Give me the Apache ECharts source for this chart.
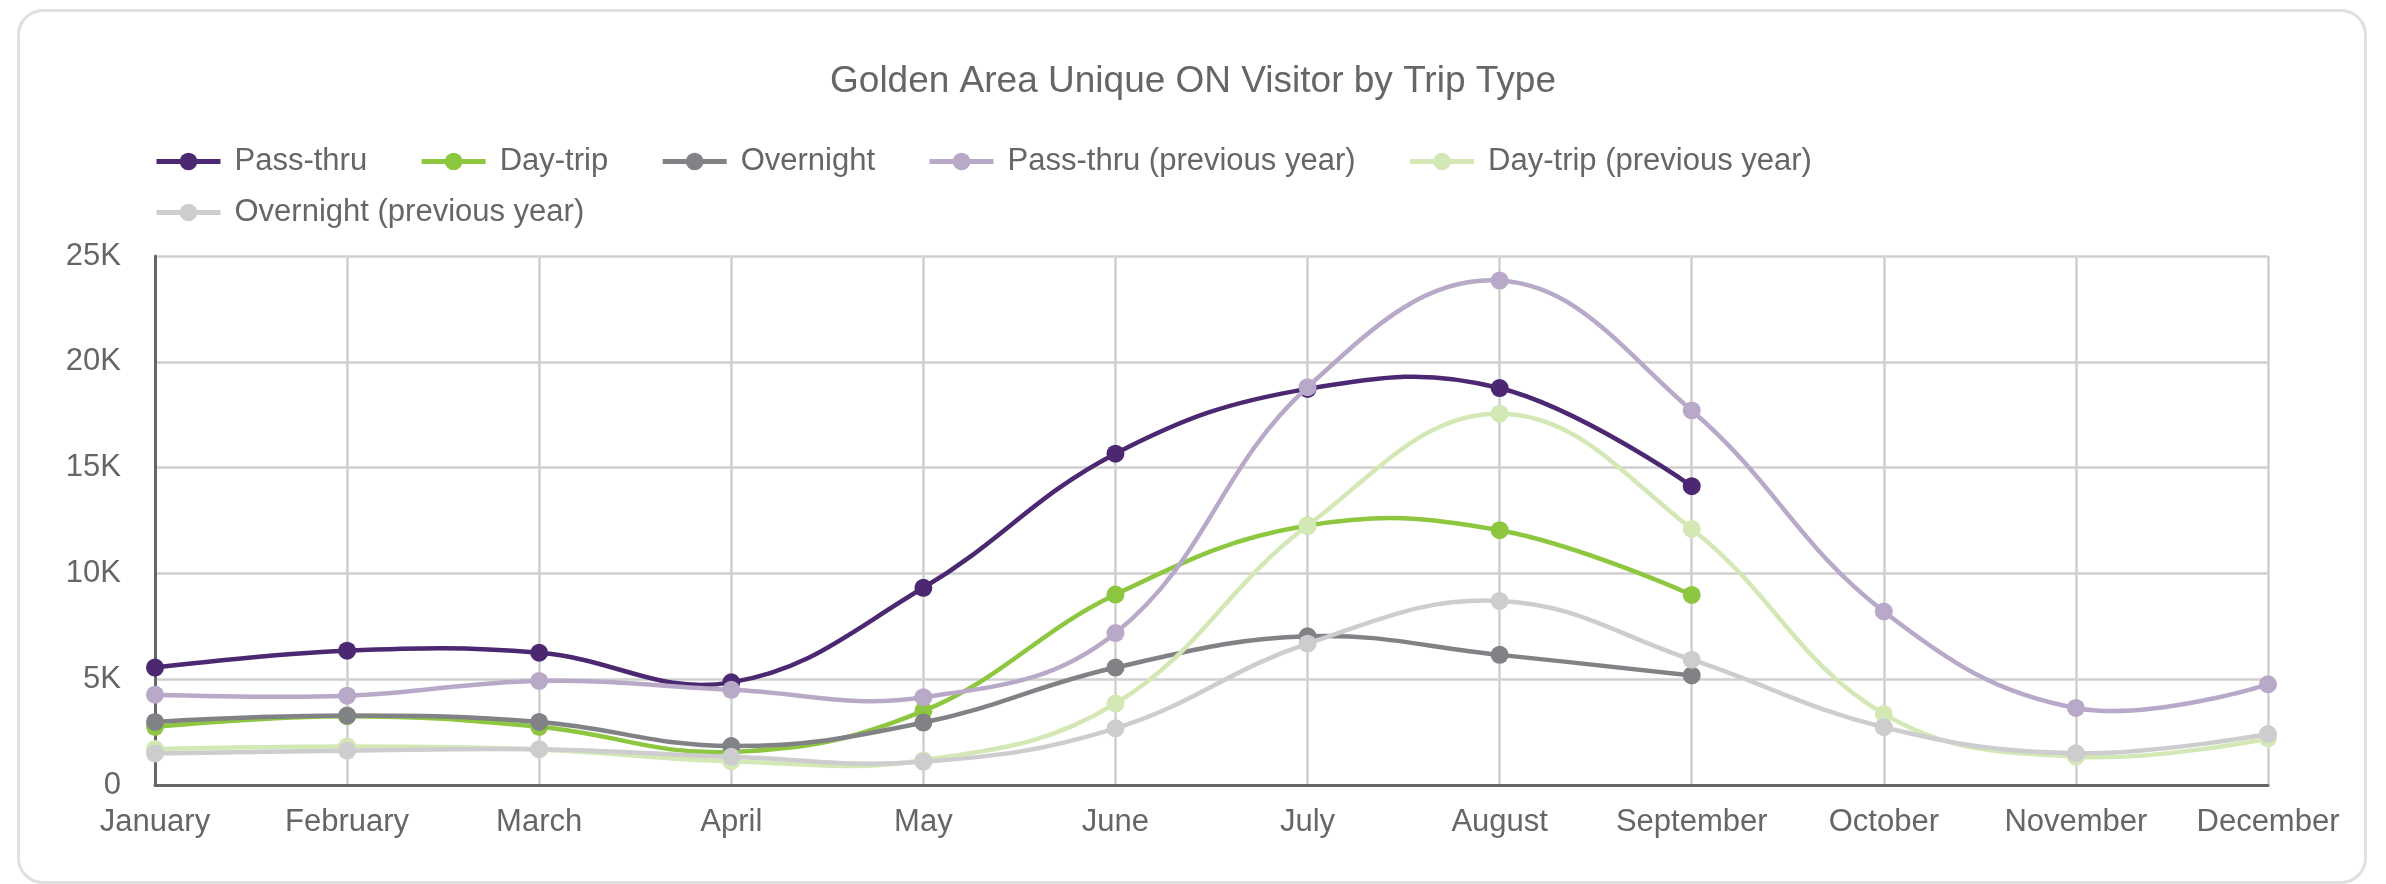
<!DOCTYPE html>
<html>
<head>
<meta charset="utf-8">
<script src="https://cdn.jsdelivr.net/npm/echarts@6/dist/echarts.min.js"></script>
<style>
  html, body { margin: 0; padding: 0; background: #fff; }
  #frame { position: absolute; left: 17px; top: 9px; width: 2350px; height: 875px; border: 3px solid #e0e0e0; border-radius: 26px; box-sizing: border-box; }
  #chart { position: absolute; left: 0; top: 0; width: 2386px; height: 884px; }
</style>
</head>
<body>
<div id="frame"></div>
<div id="chart"></div>
<script>
const title = 'Golden Area Unique ON Visitor by Trip Type';
const months = ['January','February','March','April','May','June','July','August','September','October','November','December'];
const seriesNames = ['Pass-thru','Day-trip','Overnight','Pass-thru (previous year)','Day-trip (previous year)','Overnight (previous year)'];
const passThru     = [5550, 6350, 6250, 4850, 9320, 15660, 18720, 18760, 14120, null, null, null];
const dayTrip      = [2750, 3250, 2750, 1560, 3500, 9000, 12260, 12040, 8980, null, null, null];
const overnight    = [2980, 3280, 2980, 1840, 2950, 5550, 7030, 6150, 5180, null, null, null];
const passThruPrev = [4270, 4220, 4920, 4500, 4150, 7180, 18800, 23840, 17700, 8200, 3640, 4760];
const dayTripPrev  = [1700, 1820, 1680, 1120, 1170, 3850, 12260, 17550, 12100, 3360, 1340, 2200];
const overnightPrev= [1490, 1620, 1690, 1330, 1100, 2680, 6680, 8700, 5920, 2730, 1500, 2410];
const colors = ['#4b2871', '#8dc63f', '#808285', '#b8a9c9', '#d3e8b5', '#cdcdcf'];
const yTicks = { min: 0, max: 25000, interval: 5000 };

const allData = [passThru, dayTrip, overnight, passThruPrev, dayTripPrev, overnightPrev];
const FONT = "'Liberation Sans', Arial, sans-serif";
const LINE_W = 4.5;
const TENSION = 0.4;

const chart = echarts.init(document.getElementById('chart'), null, { renderer: 'canvas' });
const legendCommon = {
  left: 149,
  orient: 'horizontal',
  itemWidth: 64,
  itemHeight: 22,
  itemGap: 52,
  lineStyle: { width: 5, opacity: 1 },
  textStyle: { color: '#666', fontSize: 31, fontFamily: FONT, padding: [0, 0, 0, 9] }
};

// Smooth curve drawn through the axis scales (api.coord), tension-style spline.
function curveSeries(i) {
  const values = allData[i];
  return {
    name: seriesNames[i] + ' curve',
    type: 'custom',
    data: values.map((v, k) => [k, v == null ? 0 : v]),
    z: 2 + i * 2,
    silent: true,
    clip: false,
    renderItem: function (params, api) {
      if (params.dataIndex !== 0) return null;
      const segments = [];
      let cur = [];
      values.forEach((v, k) => {
        if (v == null) { if (cur.length) segments.push(cur); cur = []; }
        else cur.push(api.coord([k, v]));
      });
      if (cur.length) segments.push(cur);
      return {
        type: 'group',
        children: segments.map(pts => ({
          type: 'polyline',
          shape: { points: pts, smooth: TENSION },
          style: { stroke: colors[i], lineWidth: LINE_W, fill: null, lineJoin: 'round', lineCap: 'round' }
        }))
      };
    }
  };
}

const pointSeries = seriesNames.map((name, i) => ({
  name: name,
  type: 'line',
  data: allData[i],
  smooth: false,
  symbol: 'circle',
  symbolSize: 18,
  showSymbol: true,
  connectNulls: false,
  lineStyle: { color: colors[i], width: LINE_W, opacity: 0 },
  itemStyle: { color: colors[i] },
  z: 3 + i * 2
}));

const curves = seriesNames.map((n, i) => curveSeries(i));

chart.setOption({
  backgroundColor: 'transparent',
  animation: false,
  color: colors,
  title: {
    text: title,
    left: 'center',
    top: 58,
    textStyle: { color: '#666', fontSize: 37, fontWeight: 'normal', fontFamily: FONT }
  },
  legend: [
    Object.assign({}, legendCommon, { top: 141, data: seriesNames.slice(0, 5) }),
    Object.assign({}, legendCommon, { top: 192, data: seriesNames.slice(5) })
  ],
  grid: { left: 155, right: 118, top: 256, bottom: 99, containLabel: false },
  xAxis: {
    type: 'category',
    data: months,
    boundaryGap: false,
    axisLine: { show: true, lineStyle: { color: '#666', width: 3 } },
    axisTick: { show: false },
    axisLabel: { color: '#666', fontSize: 31, fontFamily: FONT, margin: 22, interval: 0 },
    splitLine: { show: true, lineStyle: { color: '#d0d0d0', width: 2.5 } }
  },
  yAxis: {
    type: 'value',
    min: yTicks.min, max: yTicks.max, interval: yTicks.interval,
    axisLine: { show: true, lineStyle: { color: '#666', width: 3 } },
    axisTick: { show: false },
    axisLabel: {
      color: '#666', fontSize: 31, fontFamily: FONT, margin: 34,
      formatter: v => v === 0 ? '0' : (v / 1000) + 'K'
    },
    splitLine: { show: true, lineStyle: { color: '#d0d0d0', width: 2.5 } }
  },
  series: curves.concat(pointSeries)
});
</script>
</body>
</html>
